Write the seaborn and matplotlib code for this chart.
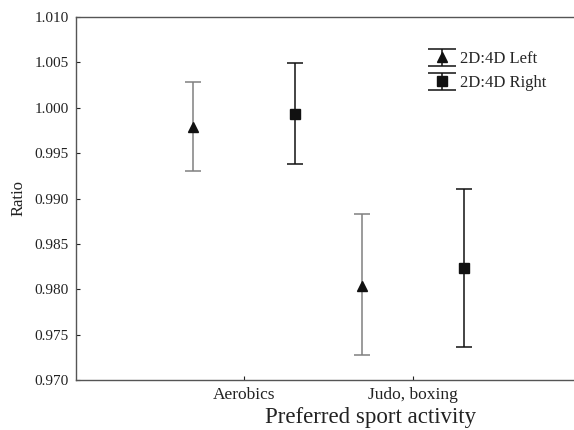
import matplotlib
matplotlib.use("Agg")
import matplotlib.pyplot as plt
import seaborn as sns
import numpy as np

categories = ["Aerobics", "Judo, boxing"]
series = ["2D:4D Left", "2D:4D Right"]
left_mean = [0.9979, 0.9804]
left_lo = [0.9930, 0.9727]
left_hi = [1.0028, 0.9883]
right_mean = [0.99935, 0.9823]
right_lo = [0.9938, 0.9736]
right_hi = [1.0049, 0.9910]
yticks = [0.970, 0.975, 0.980, 0.985, 0.990, 0.995, 1.000, 1.005, 1.010]

sns.set_theme(style="ticks")
plt.rcParams['font.family'] = ['Liberation Serif', 'DejaVu Serif']

fig = plt.figure(figsize=(5.74, 4.3), dpi=100)
ax = fig.add_axes([76/574, 50/430, 1 - 76/574, (380-17)/430])

x = np.arange(len(categories))
off = 0.3
specs = [
    (left_mean, left_lo, left_hi, -off, '^', '#808080', 7.5, series[0]),
    (right_mean, right_lo, right_hi, off, 's', '#111111', 6.5, series[1]),
]
handles = []
for mean, lo, hi, dx, mk, ec, ms, lab in specs:
    mean = np.array(mean); lo = np.array(lo); hi = np.array(hi)
    yerr = np.vstack([mean - lo, hi - mean])
    ax.errorbar(x + dx, mean, yerr=yerr, fmt=mk, color='#111111', ecolor=ec,
                elinewidth=1.1, capsize=6.1, capthick=1.1, markersize=ms)
    # legend proxy with wider caps
    h = ax.errorbar([0], [0.99], yerr=[[0.001], [0.001]], fmt=mk, color='#111111',
                    ecolor='#111111', elinewidth=1.1, capsize=10, capthick=1.1,
                    markersize=ms, label=lab)
    for art in h.get_children():
        art.remove()
    handles.append(h)

ax.set_xticks(x)
ax.set_xticklabels(categories, fontsize=12.5)
ax.set_xlim(-0.994, 1.953)
ax.set_ylim(0.970, 1.010)
ax.set_yticks(yticks)
ax.set_yticklabels([f"{v:.3f}" for v in yticks], fontsize=11)
ax.tick_params(direction='in', length=3, width=0.8, colors='#222222', pad=5)
ax.tick_params(axis='both', labelcolor='#222222')
ax.spines['right'].set_visible(False)
for s in ['left', 'bottom', 'top']:
    ax.spines[s].set_color('#555555')
    ax.spines[s].set_linewidth(1.0)
ax.set_ylabel("Ratio", fontsize=12, color='#222222', labelpad=6)
ax.set_xlabel("Preferred sport activity", fontsize=16.5, color='#222222')
ax.xaxis.set_label_coords((371 - 76) / 498, -0.074)

leg = ax.legend(handles=handles, labels=series, loc='upper left',
                bbox_to_anchor=(410/574, 1 - 36/430), bbox_transform=fig.transFigure,
                frameon=False, fontsize=12, handlelength=2.0, handletextpad=0.1,
                labelspacing=0.5)

fig.savefig("out.png", dpi=100)
